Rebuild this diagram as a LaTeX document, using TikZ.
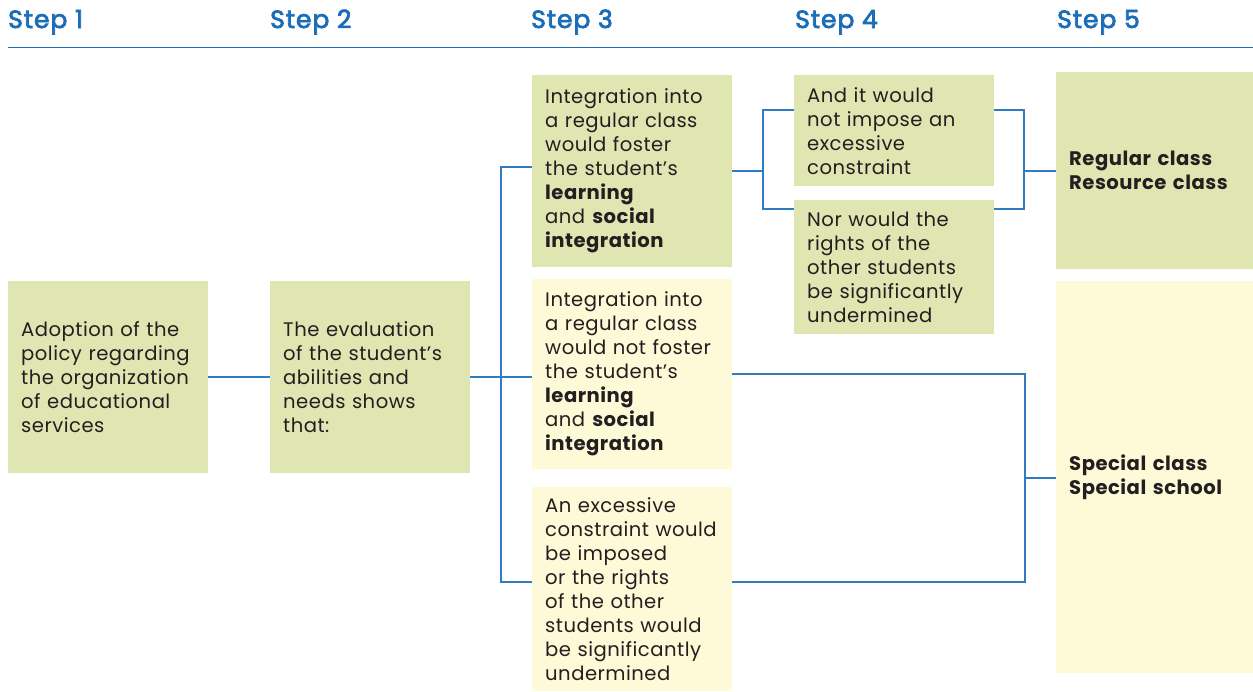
\documentclass[tikz,border=0pt]{standalone}
\usepackage{fontspec}
\setmainfont{Poppins}[LetterSpace=2.5]
\newfontfamily\headfont{Poppins}[FakeBold=3, LetterSpace=4]
\definecolor{boxgreen}{HTML}{E0E6B1}
\definecolor{boxyellow}{HTML}{FEF9D6}
\definecolor{linkblue}{HTML}{2F7CC0}
\definecolor{headblue}{HTML}{1B6DB8}
\definecolor{textdark}{HTML}{231F20}
\tikzset{
  box/.style={rectangle, anchor=north west, inner sep=0pt,
    text width=200pt, align=left, text=textdark,
    execute at begin node={\leftskip=13pt\relax},
    font=\fontsize{19.6}{24}\selectfont},
  gbox/.style={box, fill=boxgreen},
  ybox/.style={box, fill=boxyellow},
  head/.style={anchor=base west, inner sep=0pt, text=headblue,
    font=\headfont\fontsize{25}{28}\selectfont},
  conn/.style={draw=linkblue, line width=1.5pt}
}
\begin{document}
\begin{tikzpicture}[x=1pt,y=-1pt]
\useasboundingbox (0,0) rectangle (1253,691);
% headers
\node[head] (h1) at (8,28) {Step 1};
\node[head] (h2) at (270,28) {Step 2};
\node[head] (h3) at (531,28) {Step 3};
\node[head] (h4) at (795,28) {Step 4};
\node[head] (h5) at (1057,28) {Step 5};
\draw[draw=headblue, line width=1pt] (8,47) -- (1253,47);
% boxes
\node[gbox, minimum height=192pt] (b1) at (8,281)
  {Adoption of the\\policy regarding\\the organization\\of educational\\services};
\node[gbox, minimum height=192pt] (b2) at (270,281)
  {The evaluation\\of the student’s\\abilities and\\needs shows\\that:};
\node[gbox, minimum height=192pt] (b3a) at (532,75)
  {Integration into\\a regular class\\would foster\\the student’s\\\textbf{learning}\\and \textbf{social}\\\textbf{integration}};
\node[ybox, minimum height=190pt] (b3b) at (532,279)
  {Integration into\\a regular class\\would not foster\\the student’s\\\textbf{learning}\\and \textbf{social}\\\textbf{integration}};
\node[ybox, minimum height=204pt] (b3c) at (532,487)
  {An excessive\\constraint would\\be imposed\\or the rights\\of the other\\students would\\be significantly\\undermined};
\node[gbox, minimum height=111pt] (b4a) at (794,75)
  {And it would\\not impose an\\excessive\\constraint};
\node[gbox, minimum height=134pt] (b4b) at (794,200)
  {Nor would the\\rights of the\\other students\\be significantly\\undermined};
\node[gbox, minimum height=197pt, text width=197pt] (b5a) at (1056,72)
  {\textbf{Regular class}\\\textbf{Resource class}};
\node[ybox, minimum height=392pt, text width=197pt] (b5b) at (1056,281)
  {\textbf{Special class}\\\textbf{Special school}};
% connectors
\draw[conn] (b1.east) -- (b2.west);
\draw[conn] (b2.east) -- (b2.east -| b3b.west);
\draw[conn] (b3a.west |- 0,167) -- (501,167) -- (501,582) -- (b3c.west |- 0,582);
\draw[conn] (b3a.east |- 0,171) -- (763,171);
\draw[conn] (b4a.west |- 0,110) -- (763,110) -- (763,209) -- (b4b.west |- 0,209);
\draw[conn] (b4a.east |- 0,110) -- (1024,110) -- (1024,209) -- (b4b.east |- 0,209);
\draw[conn] (1024,171) -- (b5a.west |- 0,171);
\draw[conn] (b3b.east |- 0,374) -- (1025,374) -- (1025,582) -- (b3c.east |- 0,582);
\draw[conn] (1025,478) -- (b5b.west |- 0,478);
\end{tikzpicture}
\end{document}
